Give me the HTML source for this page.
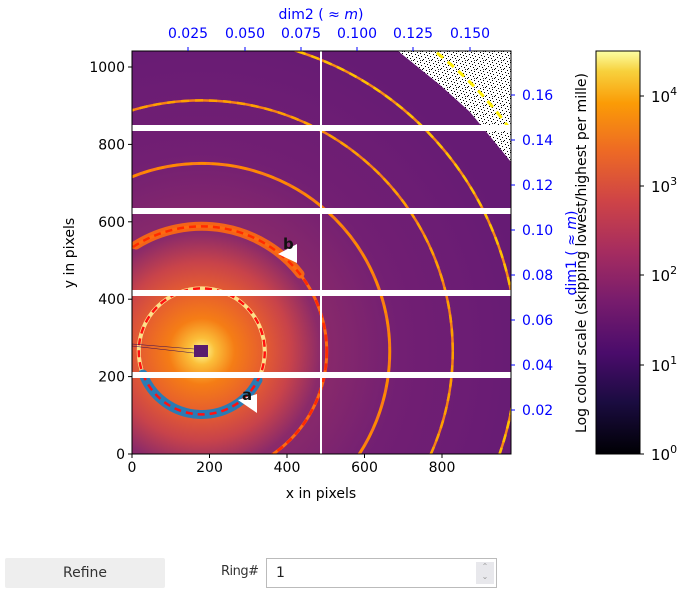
<!DOCTYPE html>
<html><head><meta charset="utf-8"><style>
html,body{margin:0;width:683px;height:596px;background:#fff;overflow:hidden;font-family:"DejaVu Sans","Liberation Sans",sans-serif;}
*{box-sizing:border-box}
svg text{font-family:"DejaVu Sans","Liberation Sans",sans-serif;}
</style></head><body>
<svg width="683" height="596" viewBox="0 0 683 596" xmlns="http://www.w3.org/2000/svg" style="position:absolute;left:0;top:0">
<defs>
<clipPath id="pc"><rect x="132" y="51" width="379" height="403"/></clipPath>
<radialGradient id="glow" cx="201.75" cy="351.4" r="330" gradientUnits="userSpaceOnUse">
<stop offset="0" stop-color="#fcffa4"/>
<stop offset="0.04" stop-color="#fbbf3a"/>
<stop offset="0.1" stop-color="#f57d15"/>
<stop offset="0.19" stop-color="#e55c30"/>
<stop offset="0.27" stop-color="#c8434a"/>
<stop offset="0.36" stop-color="#8a2a6a"/>
<stop offset="0.6" stop-color="#721f73"/>
<stop offset="1" stop-color="#661b74"/>
</radialGradient>
<linearGradient id="cb" x1="0" y1="1" x2="0" y2="0">
<stop offset="0" stop-color="#000004"/>
<stop offset="0.13" stop-color="#1b0c41"/>
<stop offset="0.25" stop-color="#4a0c6b"/>
<stop offset="0.38" stop-color="#781c6d"/>
<stop offset="0.5" stop-color="#a52c60"/>
<stop offset="0.63" stop-color="#cf4446"/>
<stop offset="0.75" stop-color="#ed6925"/>
<stop offset="0.87" stop-color="#fb9b06"/>
<stop offset="0.95" stop-color="#f7d13d"/>
<stop offset="1" stop-color="#fcffa4"/>
</linearGradient>
<pattern id="noise" width="9" height="9" patternUnits="userSpaceOnUse">
<rect width="9" height="9" fill="#fff"/>
<rect x="1" y="0" width="1" height="1" fill="#000"/><rect x="4" y="1" width="1" height="1" fill="#000"/>
<rect x="7" y="2" width="1" height="1" fill="#000"/><rect x="2" y="3" width="1" height="1" fill="#000"/>
<rect x="5" y="4" width="1" height="1" fill="#000"/><rect x="0" y="5" width="1" height="1" fill="#000"/>
<rect x="8" y="6" width="1" height="1" fill="#000"/><rect x="3" y="7" width="1" height="1" fill="#000"/>
<rect x="6" y="8" width="1" height="1" fill="#000"/><rect x="6" y="6" width="1" height="1" fill="#333"/>
</pattern>
</defs>
<g clip-path="url(#pc)">
<rect x="132" y="51" width="379" height="403" fill="url(#glow)"/>
<g fill="none" stroke-linecap="butt">
<circle cx="201.75" cy="351.4" r="63" stroke="#fde08a" stroke-width="4"/>
<circle cx="201.75" cy="351.4" r="125" stroke="#ff6a10" stroke-width="3"/>
<circle cx="201.75" cy="351.4" r="188" stroke="#fb7d14" stroke-width="3"/>
<circle cx="201.75" cy="351.4" r="251" stroke="#f88016" stroke-width="2.5"/>
<circle cx="201.75" cy="351.4" r="315" stroke="#f98a16" stroke-width="2.5"/>
</g>
<polygon points="398,51 511,51 511,162 470,112 440,85" fill="url(#noise)"/>
<g fill="none">
<path d="M143,374 A63,63 0 0 0 258,380" stroke="#2a7bb4" stroke-width="9" stroke-linecap="round"/>
<path d="M136,245 A125,125 0 0 1 300,274" stroke="#ff6a10" stroke-width="9" stroke-linecap="round" opacity="0.9"/>
<circle cx="201.75" cy="351.4" r="63" stroke="#f11" stroke-width="2.5" stroke-dasharray="7,5"/>
<circle cx="201.75" cy="351.4" r="125" stroke="#ff2a00" stroke-width="2.5" stroke-dasharray="7,5"/>
<circle cx="201.75" cy="351.4" r="188" stroke="#ff8a00" stroke-width="2.5" stroke-dasharray="8,6"/>
<circle cx="201.75" cy="351.4" r="251" stroke="#ffa000" stroke-width="2.5" stroke-dasharray="8,6"/>
<circle cx="201.75" cy="351.4" r="315" stroke="#ffc000" stroke-width="2.5" stroke-dasharray="8,6"/>
<circle cx="201.75" cy="351.4" r="380" stroke="#ffee00" stroke-width="3" stroke-dasharray="8,6"/>
</g>
<rect x="194" y="345" width="14" height="12" fill="#5a1c6e"/>
<path d="M132,344 L194,349 M132,346 L194,353" stroke="#3a0d55" stroke-width="0.6"/>
<g fill="#fff">
<rect x="132" y="125" width="379" height="6"/>
<rect x="132" y="208" width="379" height="6"/>
<rect x="132" y="290" width="379" height="6"/>
<rect x="132" y="372" width="379" height="6"/>
<rect x="320" y="51" width="2" height="403"/>
<polygon points="278,254 297,244 297,263"/>
<polygon points="238,400 257,394 257,413"/>
</g>
<text x="283" y="249" font-size="15" font-weight="bold" fill="#111">b</text>
<text x="242" y="400" font-size="15" font-weight="bold" fill="#111">a</text>
</g>
<rect x="132" y="51" width="379" height="403" fill="none" stroke="#000" stroke-width="1"/>
<g stroke="#000"><line x1="132" y1="454" x2="132" y2="458"/><line x1="209.5" y1="454" x2="209.5" y2="458"/><line x1="287" y1="454" x2="287" y2="458"/><line x1="364.5" y1="454" x2="364.5" y2="458"/><line x1="442" y1="454" x2="442" y2="458"/></g>
<g font-size="14" fill="#000" text-anchor="middle">
<text x="132" y="472">0</text><text x="209.5" y="472">200</text><text x="287" y="472">400</text><text x="364.5" y="472">600</text><text x="442" y="472">800</text>
<text x="321" y="498">x in pixels</text>
</g>
<g stroke="#000"><line x1="128" y1="454" x2="132" y2="454"/><line x1="128" y1="376.6" x2="132" y2="376.6"/><line x1="128" y1="299.2" x2="132" y2="299.2"/><line x1="128" y1="221.8" x2="132" y2="221.8"/><line x1="128" y1="144.4" x2="132" y2="144.4"/><line x1="128" y1="67" x2="132" y2="67"/></g>
<g font-size="14" fill="#000" text-anchor="end">
<text x="125" y="459">0</text><text x="125" y="381.6">200</text><text x="125" y="304.2">400</text><text x="125" y="226.8">600</text><text x="125" y="149.4">800</text><text x="125" y="72">1000</text>
</g>
<text transform="translate(74,253) rotate(-90)" font-size="14" text-anchor="middle">y in pixels</text>
<g stroke="#00f"><line x1="188" y1="47" x2="188" y2="51"/><line x1="245" y1="47" x2="245" y2="51"/><line x1="301" y1="47" x2="301" y2="51"/><line x1="357" y1="47" x2="357" y2="51"/><line x1="413" y1="47" x2="413" y2="51"/><line x1="470" y1="47" x2="470" y2="51"/></g>
<g font-size="14" fill="#00f" text-anchor="middle">
<text x="188" y="38">0.025</text><text x="245" y="38">0.050</text><text x="301" y="38">0.075</text><text x="357" y="38">0.100</text><text x="413" y="38">0.125</text><text x="470" y="38">0.150</text>
<text x="321" y="19">dim2 ( ≈ <tspan font-style="italic">m</tspan>)</text>
</g>
<g stroke="#00f"><line x1="511" y1="410" x2="515" y2="410"/><line x1="511" y1="365" x2="515" y2="365"/><line x1="511" y1="320" x2="515" y2="320"/><line x1="511" y1="275" x2="515" y2="275"/><line x1="511" y1="230" x2="515" y2="230"/><line x1="511" y1="185" x2="515" y2="185"/><line x1="511" y1="140" x2="515" y2="140"/><line x1="511" y1="95" x2="515" y2="95"/></g>
<g font-size="14" fill="#00f">
<text x="522" y="415">0.02</text><text x="522" y="370">0.04</text><text x="522" y="325">0.06</text><text x="522" y="280">0.08</text><text x="522" y="235">0.10</text><text x="522" y="190">0.12</text><text x="522" y="145">0.14</text><text x="522" y="100">0.16</text>
</g>
<text transform="translate(576,253) rotate(-90)" font-size="14" fill="#00f" text-anchor="middle">dim1 ( ≈ <tspan font-style="italic">m</tspan>)</text>
<text transform="translate(586,253) rotate(-90)" font-size="14" fill="#000" text-anchor="middle">Log colour scale (skipping lowest/highest per mille)</text>
<rect x="596" y="51" width="44" height="403" fill="url(#cb)" stroke="#000" stroke-width="1"/>
<g stroke="#000"><line x1="640" y1="454" x2="644" y2="454"/><line x1="640" y1="365" x2="644" y2="365"/><line x1="640" y1="275" x2="644" y2="275"/><line x1="640" y1="186" x2="644" y2="186"/><line x1="640" y1="96" x2="644" y2="96"/></g>
<g font-size="15" fill="#000">
<text x="651" y="460">10<tspan dy="-7" font-size="11">0</tspan></text>
<text x="651" y="371">10<tspan dy="-7" font-size="11">1</tspan></text>
<text x="651" y="281">10<tspan dy="-7" font-size="11">2</tspan></text>
<text x="651" y="192">10<tspan dy="-7" font-size="11">3</tspan></text>
<text x="651" y="102">10<tspan dy="-7" font-size="11">4</tspan></text>
</g>
</svg>
<div style="position:absolute;left:5px;top:558px;width:160px;height:30px;background:#eeeeee;border-radius:2px;font-size:14px;line-height:30px;text-align:center;color:#333">Refine</div>
<div style="position:absolute;left:221px;top:564px;font-size:13px;letter-spacing:-0.5px;color:#333">Ring#</div>
<div style="position:absolute;left:266px;top:558px;width:231px;height:30px;border:1px solid #bbb;background:#fff;font-size:14px;line-height:28px;color:#222"><span style="margin-left:9px">1</span>
<div style="position:absolute;right:2px;top:3px;width:18px;height:22px;background:#e8e8ec;font-size:8px;line-height:10px;text-align:center;color:#999">⌃<br>⌄</div></div>
</body></html>
